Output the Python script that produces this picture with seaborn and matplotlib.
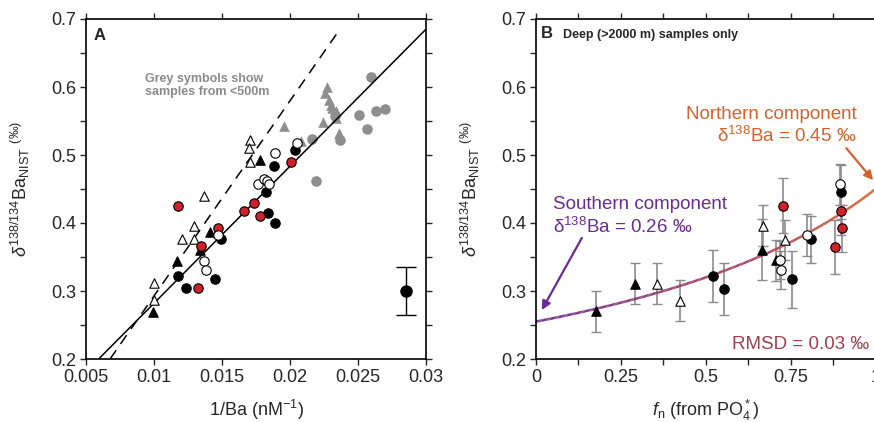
import numpy as np
import pandas as pd
import matplotlib
matplotlib.use("Agg")
import matplotlib.pyplot as plt
import seaborn as sns
from matplotlib.collections import LineCollection
from matplotlib.colors import LinearSegmentedColormap
from matplotlib.ticker import MultipleLocator, FormatStrFormatter, FixedLocator

# ---------------- Panel A data ----------------
a_open_tri_x = [0.0100, 0.0100, 0.01207, 0.01296, 0.01296, 0.01369, 0.01708, 0.01696, 0.01708]
a_open_tri_y = [0.312, 0.287, 0.376, 0.395, 0.377, 0.440, 0.522, 0.511, 0.490]
a_fill_tri_x = [0.00996, 0.01168, 0.01340, 0.01414, 0.01782]
a_fill_tri_y = [0.269, 0.344, 0.360, 0.387, 0.492]
a_black_x = [0.01175, 0.01237, 0.01450, 0.01495, 0.01826, 0.01836, 0.01892, 0.01885, 0.02037]
a_black_y = [0.322, 0.304, 0.318, 0.376, 0.445, 0.414, 0.400, 0.484, 0.507]
a_red_x = [0.01177, 0.01325, 0.01345, 0.01468, 0.01659, 0.01738, 0.01782, 0.02008]
a_red_y = [0.425, 0.305, 0.366, 0.392, 0.418, 0.429, 0.410, 0.490]
a_open_x = [0.01369, 0.01384, 0.01468, 0.01763, 0.01807, 0.01831, 0.01846, 0.01892, 0.02052]
a_open_y = [0.344, 0.331, 0.382, 0.458, 0.465, 0.462, 0.458, 0.503, 0.518]
a_grey_tri_x = [0.01954, 0.02084, 0.02244, 0.02273, 0.02261, 0.02285, 0.02298, 0.02310, 0.02335, 0.02359, 0.02335]
a_grey_tri_y = [0.543, 0.520, 0.549, 0.600, 0.591, 0.581, 0.574, 0.569, 0.564, 0.532, 0.554]
a_grey_circ_x = [0.02163, 0.02188, 0.02368, 0.02593, 0.02508, 0.02566, 0.02635, 0.02701, 0.02331]
a_grey_circ_y = [0.524, 0.462, 0.522, 0.615, 0.559, 0.538, 0.565, 0.567, 0.557]
# typical uncertainty symbol
a_err_x = [0.0285]
a_err_y = [0.300]
a_err = [0.035]
# regression lines (slope, intercept, x-range)
solid_slope, solid_icpt, solid_x = 20.15, 0.0805, [0.00593, 0.030]
dash_slope, dash_icpt, dash_x = 28.7, 0.0057, [0.00677, 0.0236]

# ---------------- Panel B data ----------------
b_fill_tri_x = [0.177, 0.293, 0.666, 0.707]
b_fill_tri_y = [0.270, 0.311, 0.361, 0.345]
b_fill_tri_e = [0.030, 0.030, 0.045, 0.030]
b_open_tri_x = [0.355, 0.423, 0.670, 0.732]
b_open_tri_y = [0.311, 0.286, 0.396, 0.375]
b_open_tri_e = [0.030, 0.030, 0.030, 0.030]
b_black_x = [0.520, 0.554, 0.753, 0.811, 0.897]
b_black_y = [0.322, 0.303, 0.317, 0.376, 0.446]
b_black_e = [0.038, 0.038, 0.042, 0.035, 0.040]
b_open_x = [0.720, 0.722, 0.797, 0.896]
b_open_y = [0.345, 0.331, 0.382, 0.457]
b_open_e = [0.028, 0.028, 0.031, 0.030]
b_red_x = [0.727, 0.880, 0.899, 0.901]
b_red_y = [0.4255, 0.365, 0.418, 0.392]
b_red_e = [0.040, 0.040, 0.035, 0.034]
# mixing model end-members
delta_south = 0.255
delta_north = 0.45
conc_ratio = 2.0  # [Ba]south / [Ba]north

# ---------------- Style ----------------
sns.set_style("ticks")
plt.rcParams["font.family"] = ["Liberation Sans", "DejaVu Sans"]
plt.rcParams["mathtext.fontset"] = "custom"
plt.rcParams["mathtext.rm"] = "Liberation Sans"
plt.rcParams["mathtext.it"] = "Liberation Sans:italic"
plt.rcParams["mathtext.bf"] = "Liberation Sans:bold"
plt.rcParams["axes.linewidth"] = 1.2

RED = "#d0202a"
GREY = "#8e8e8e"
PURPLE = "#6a2c8f"
ORANGE = "#d4622a"
MAROON = "#a0404e"

fig = plt.figure(figsize=(8.74, 4.22), dpi=100)
axA = fig.add_axes([86 / 874, 1 - 359 / 422, 340 / 874, 340 / 422])
axB = fig.add_axes([536 / 874, 1 - 359 / 422, 339.5 / 874, 340 / 422])

ms = 46
ew = 0.8


def scat(ax, x, y, marker, face, edge, s=ms, z=3, lw=ew):
    df = pd.DataFrame({"x": x, "y": y})
    sns.scatterplot(data=df, x="x", y="y", ax=ax, marker=marker, color=face,
                    edgecolor=edge, linewidth=lw, s=s, zorder=z, legend=False)


# ---------------- Panel A ----------------
scat(axA, a_grey_circ_x, a_grey_circ_y, "o", GREY, GREY, s=58, z=2, lw=0)
scat(axA, a_grey_tri_x, a_grey_tri_y, "^", GREY, GREY, s=58, z=2, lw=0)
xs = np.array(solid_x)
axA.plot(xs, solid_slope * xs + solid_icpt, color="black", lw=1.1, zorder=2.5)
xd = np.array(dash_x)
axA.plot(xd, dash_slope * xd + dash_icpt, color="black", lw=1.1, ls=(0, (7, 5)), zorder=2.5)
scat(axA, a_open_tri_x, a_open_tri_y, "^", "white", "black")
scat(axA, a_fill_tri_x, a_fill_tri_y, "^", "black", "black")
scat(axA, a_black_x, a_black_y, "o", "black", "black")
scat(axA, a_red_x, a_red_y, "o", RED, "black")
scat(axA, a_open_x, a_open_y, "o", "white", "black")
axA.errorbar(a_err_x, a_err_y, yerr=a_err, fmt="o", color="black", ms=8,
             capsize=7, elinewidth=1.0, capthick=1.0, zorder=3)

axA.set_xlim(0.005, 0.03)
axA.set_ylim(0.2, 0.7)
axA.xaxis.set_major_locator(FixedLocator([0.005, 0.01, 0.015, 0.02, 0.025, 0.03]))
axA.xaxis.set_major_formatter(FormatStrFormatter("%g"))
axA.yaxis.set_major_locator(MultipleLocator(0.1))
axA.yaxis.set_minor_locator(MultipleLocator(0.05))
axA.yaxis.set_major_formatter(FormatStrFormatter("%g"))
axA.set_xlabel("1/Ba (nM$^{-1}$)", fontsize=13)
axA.text(0.021, 0.952, "A", transform=axA.transAxes, fontsize=12, fontweight="bold",
         ha="left", va="center")
axA.text(0.00934, 0.602, "Grey symbols show\nsamples from <500m", color="#8a8a8a",
         fontsize=9, fontweight="bold", ha="left", va="center", linespacing=1.15)

# ---------------- Panel B ----------------
f = np.linspace(0, 1, 300)
mix = (f * delta_north + (1 - f) * conc_ratio * delta_south) / (f + (1 - f) * conc_ratio)
pts = np.column_stack([f, mix]).reshape(-1, 1, 2)
segs = np.concatenate([pts[:-1], pts[1:]], axis=1)
cmap = LinearSegmentedColormap.from_list("mix", [PURPLE, "#8a3670", "#a8405a", ORANGE])
lc = LineCollection(segs, cmap=cmap, linewidth=1.8, zorder=1.5)
lc.set_array(f[:-1])
axB.add_collection(lc)

for xx, yy, ee in [(b_fill_tri_x, b_fill_tri_y, b_fill_tri_e),
                   (b_open_tri_x, b_open_tri_y, b_open_tri_e),
                   (b_black_x, b_black_y, b_black_e),
                   (b_open_x, b_open_y, b_open_e),
                   (b_red_x, b_red_y, b_red_e)]:
    axB.errorbar(xx, yy, yerr=ee, fmt="none", ecolor="#8c8c8c", elinewidth=1.2,
                 capsize=3.5, capthick=1.0, zorder=1)

scat(axB, b_fill_tri_x, b_fill_tri_y, "^", "black", "black")
scat(axB, b_open_tri_x, b_open_tri_y, "^", "white", "black")
scat(axB, b_black_x, b_black_y, "o", "black", "black")
scat(axB, b_open_x, b_open_y, "o", "white", "black")
scat(axB, b_red_x, b_red_y, "o", RED, "black")

axB.set_xlim(0, 1)
axB.set_ylim(0.2, 0.7)
axB.xaxis.set_major_locator(MultipleLocator(0.25))
axB.xaxis.set_minor_locator(MultipleLocator(0.125))
axB.xaxis.set_major_formatter(FormatStrFormatter("%g"))
axB.yaxis.set_major_locator(MultipleLocator(0.1))
axB.yaxis.set_minor_locator(MultipleLocator(0.05))
axB.yaxis.set_major_formatter(FormatStrFormatter("%g"))
axB.set_xlabel(r"$f_{\mathrm{n}}$ (from PO$_4^*$)", fontsize=13)
axB.text(0.014, 0.956, "B", transform=axB.transAxes, fontsize=12, fontweight="bold",
         ha="left", va="center")
axB.text(0.081, 0.953, "Deep (>2000 m) samples only", transform=axB.transAxes,
         fontsize=9, fontweight="bold", ha="left", va="center")

axB.text(0.051, 0.4265, "Southern component", color=PURPLE, fontsize=13.5,
         ha="left", va="center")
axB.text(0.051, 0.394, "δ$^{138}$Ba = 0.26 ‰", color=PURPLE, fontsize=13.5,
         ha="left", va="center")
axB.text(0.944, 0.560, "Northern component", color=ORANGE, fontsize=13.5,
         ha="right", va="center")
axB.text(0.944, 0.528, "δ$^{138}$Ba = 0.45 ‰", color=ORANGE, fontsize=13.5,
         ha="right", va="center")
axB.text(0.982, 0.2206, "RMSD = 0.03 ‰", color=MAROON, fontsize=13.5,
         ha="right", va="center")
axB.annotate("", xy=(0.017, 0.272), xytext=(0.135, 0.378),
             arrowprops=dict(arrowstyle="-|>", color=PURPLE, lw=1.6,
                             mutation_scale=13, shrinkA=0, shrinkB=0))
axB.annotate("", xy=(0.993, 0.463), xytext=(0.914, 0.510),
             arrowprops=dict(arrowstyle="-|>", color=ORANGE, lw=1.6,
                             mutation_scale=13, shrinkA=0, shrinkB=0))

ylab = r"$\delta^{138/134}\mathrm{Ba}_{\mathrm{NIST}}$ $^{(‰)}$"
for ax in (axA, axB):
    ax.set_ylabel(ylab, fontsize=13)
    ax.tick_params(which="both", direction="out", top=True, right=True,
                   width=1.0, labelsize=13, pad=3)
    ax.tick_params(which="major", length=4)
    ax.tick_params(which="minor", length=4)
    for sp in ax.spines.values():
        sp.set_visible(True)
        sp.set_color("black")
    ax.yaxis.set_label_coords(-0.16, 0.5)
    ax.xaxis.set_label_coords(0.5, -0.115)

fig.savefig("out.png", dpi=100)
